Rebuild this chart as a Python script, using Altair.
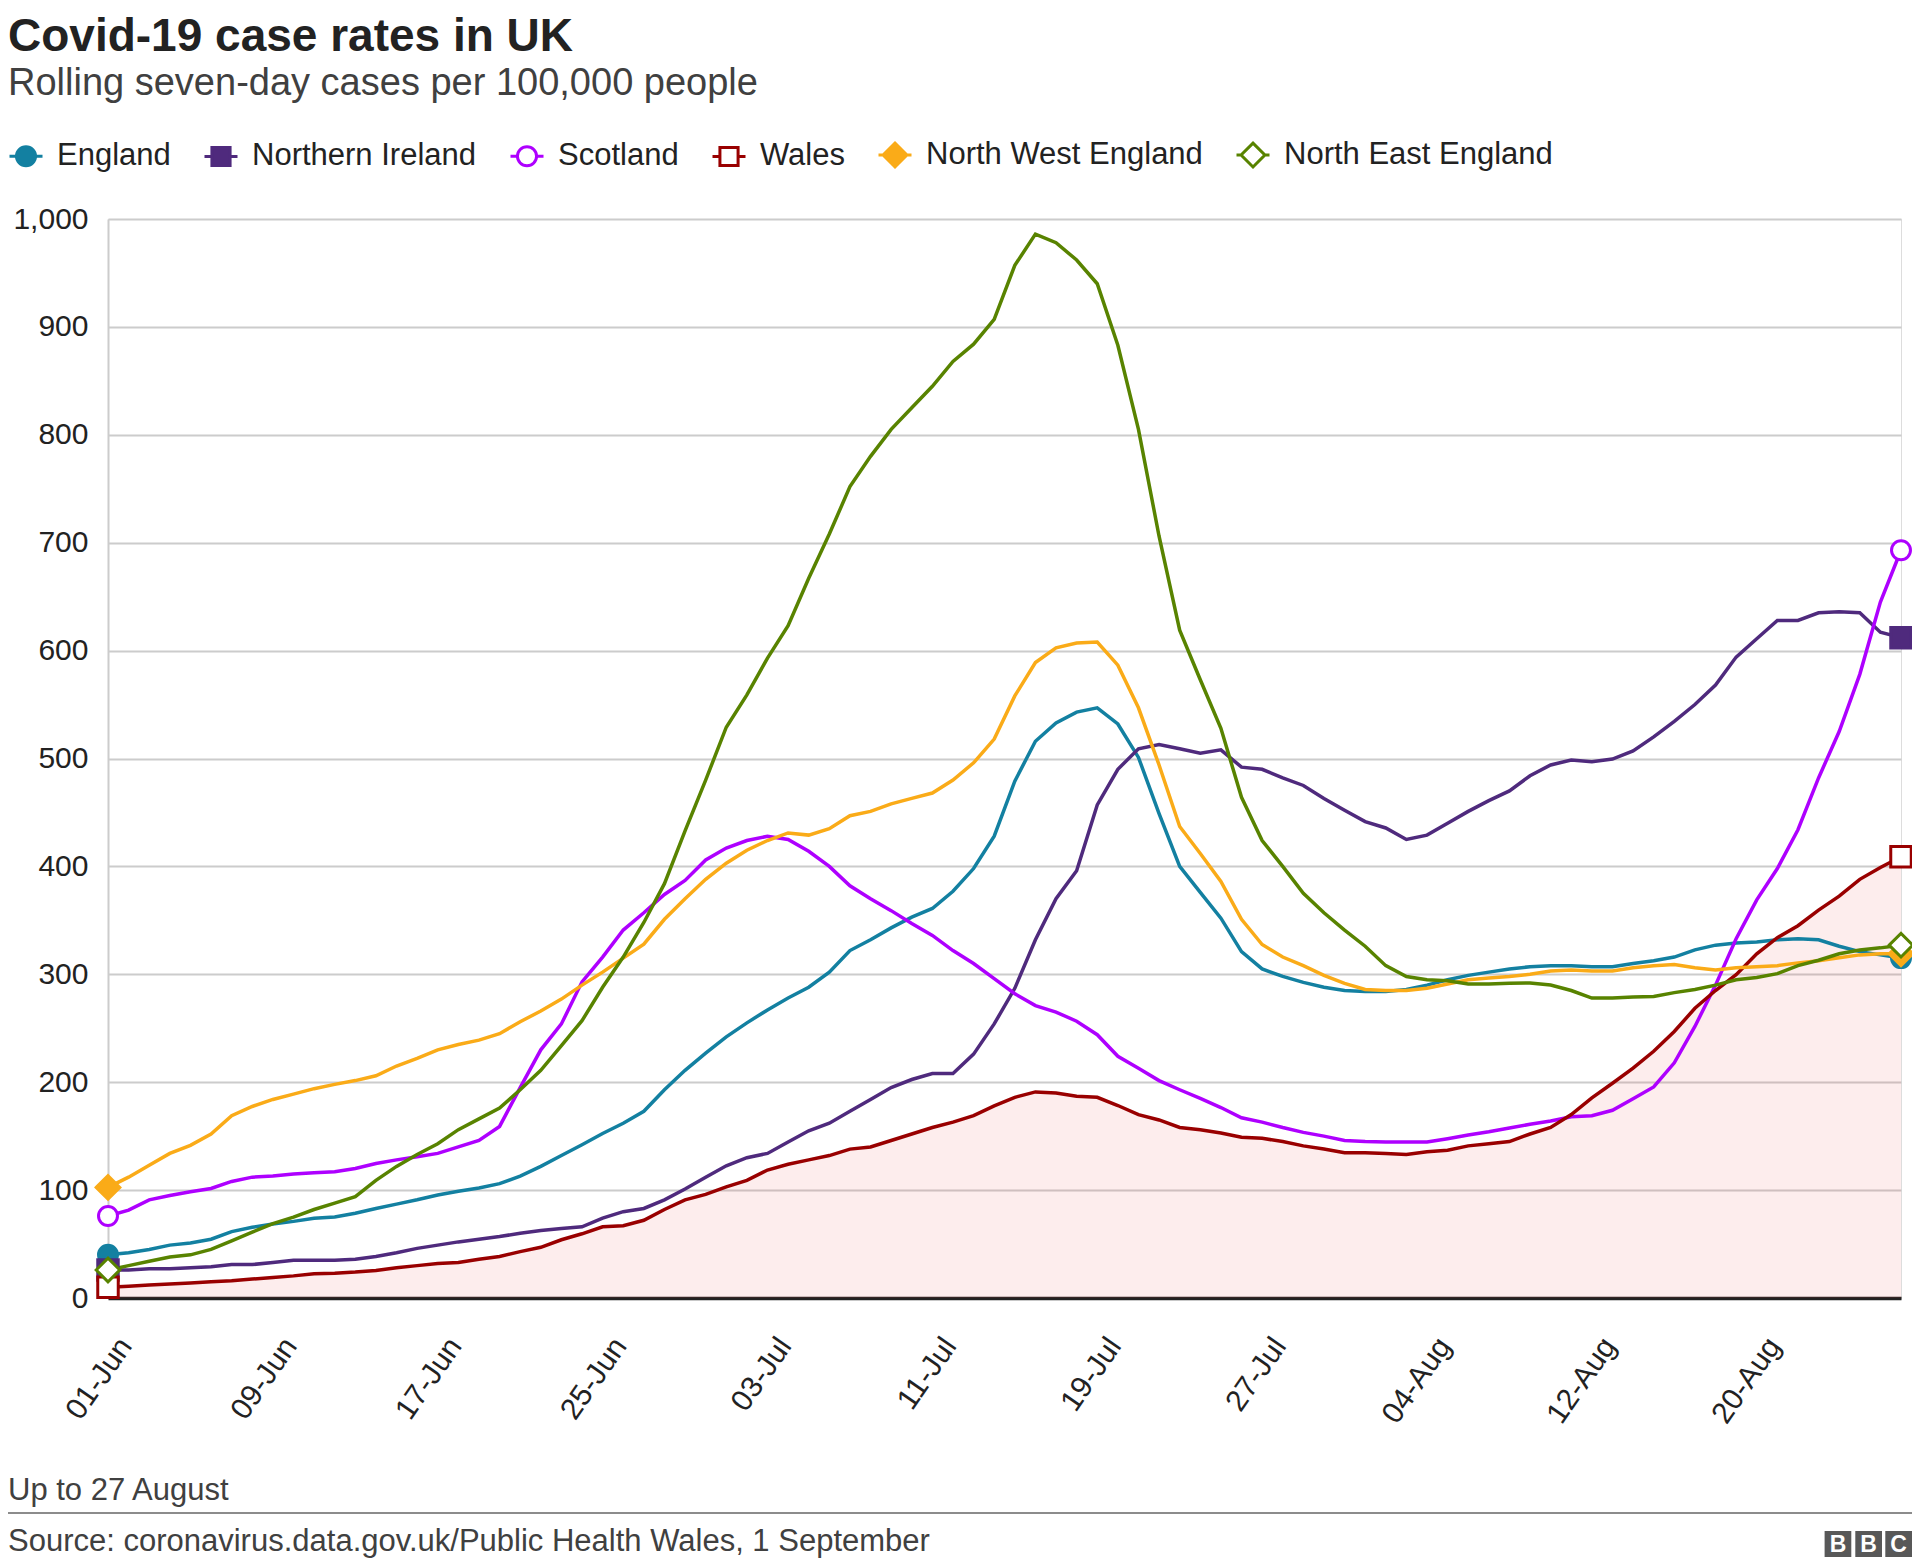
import altair as alt
import pandas as pd

FONT = "Liberation Sans"

# ---------------- data ----------------
start_date = "2021-06-01"
end_date = "2021-08-27"

series_names = ["England", "Northern Ireland", "Scotland", "Wales",
                "North West England", "North East England"]

england = [40, 42, 45, 49, 51, 54.5, 61.5, 65.5, 68.6, 71,
           74, 75, 78.5, 83, 87, 91, 95.5, 99, 102, 106,
           113, 122, 132, 142, 152.5, 162, 173, 193, 211, 227,
           242, 255, 267, 278, 288, 302, 322, 332, 343, 353,
           361, 377, 398, 428, 479, 516, 533, 543, 547, 532,
           501, 449, 400, 376, 352, 321, 305, 298, 292.5, 288,
           285, 284, 284, 286, 290, 295, 299, 302, 305, 307,
           308, 308, 307, 307, 310, 312.6, 316, 322.6, 327, 329,
           330, 332, 333, 332, 326, 321, 318, 315]

northern_ireland = [26, 26, 27, 27, 28, 29, 31, 31, 33, 35,
                    35, 35, 36, 38.5, 42, 46, 49, 52, 54.5, 57,
                    60, 62.5, 64.5, 66, 74, 80, 83, 91, 101, 112,
                    122.5, 130, 134, 144.6, 155, 162, 173, 184, 195, 202.5,
                    208, 208, 226, 254, 287, 332, 370, 396, 457, 490,
                    509, 513, 509, 505, 508, 492, 490, 482, 475, 463,
                    452, 441.5, 435.6, 425, 429, 440, 451, 461, 470, 484,
                    494, 498.6, 497, 499.5, 507, 520, 534.5, 550, 568, 594,
                    611, 628, 628, 635, 636, 635, 617, 612]

scotland = [76, 81.5, 91, 95, 98.5, 101.5, 108, 112, 113, 115,
            116, 117, 120, 124.6, 128, 131, 134, 140, 146, 159,
            195, 230, 254, 293, 316, 341, 357, 374, 387, 406,
            417, 424, 428, 425, 414, 400, 382, 370, 359, 347,
            336, 322, 310, 296, 282, 271, 265, 256.5, 244, 224,
            213, 201.5, 193, 185, 176.5, 167, 163, 158, 153.5, 150,
            146, 145, 144.5, 144.5, 144.5, 147.6, 151, 154, 157.5, 161,
            164, 168, 169, 174, 184.6, 195.6, 218, 251.7, 290, 333,
            369, 398, 434, 482, 525, 578, 645, 693]

wales = [10, 11, 12, 13, 14, 15, 16, 17.5, 19, 20.5,
         22.5, 23, 24, 25.5, 28, 30, 32, 33, 36, 38.5,
         43, 47, 54, 59.5, 66, 67, 72, 82, 91, 96,
         103, 109, 118.6, 124, 128, 132, 138, 140, 146, 152,
         158, 163, 169, 178, 186, 191, 190, 187, 186, 178.4,
         170, 165, 158, 156, 153, 149, 148, 145, 141, 138,
         134.6, 134.6, 134, 133, 135.5, 137, 141, 143, 145, 152,
         158, 170, 185.5, 199, 213, 228.7, 247, 268.5, 285, 299.6,
         319, 334, 345, 359.5, 372.5, 388, 399, 409]

north_west = [102.5, 112, 123, 134, 141.5, 152, 169, 177.5, 184, 189,
              194, 198, 201.5, 206, 215, 222, 230, 235, 239, 245,
              256, 266, 277, 290, 302, 315, 328, 351, 370, 388,
              403, 415, 424, 431, 429, 435, 447, 451, 458, 463,
              468, 480, 496, 518, 558, 589, 602.5, 607, 608, 586.5,
              547, 494, 437, 412, 386, 351, 327.6, 316, 308, 299,
              291.6, 286, 285, 285, 287, 291, 295, 296.6, 298, 300,
              303, 304, 303, 303, 306, 308, 309, 306, 304, 306,
              307, 308, 310.6, 312.6, 315.4, 318, 319, 319]

north_east = [26, 30, 34, 38, 40, 45, 53, 61, 69, 75,
              82, 88, 94, 109, 122, 133, 143, 156, 166, 176,
              193, 211, 234, 257, 288, 316, 348, 384, 433, 480,
              529, 559, 593, 623, 667, 708, 752, 780, 805, 825,
              845, 868, 884, 907, 957, 986, 978, 962, 940, 883,
              805, 706, 619, 573, 528, 464, 424, 400, 375, 357,
              341, 326, 308, 298, 295, 294, 291, 291, 291.6, 292,
              290, 285, 278, 278, 279, 279.5, 283, 286, 290, 295,
              297, 300.6, 308, 313, 319, 322.6, 324.5, 327]

all_values = [england, northern_ireland, scotland, wales, north_west, north_east]

y_ticks = list(range(0, 1001, 100))
x_tick_dates = ["2021-06-01", "2021-06-09", "2021-06-17", "2021-06-25",
                "2021-07-03", "2021-07-11", "2021-07-19", "2021-07-27",
                "2021-08-04", "2021-08-12", "2021-08-20"]

title_text = "Covid-19 case rates in UK"
subtitle_text = "Rolling seven-day cases per 100,000 people"
note_text = "Up to 27 August"
source_text = "Source: coronavirus.data.gov.uk/Public Health Wales, 1 September"

# ---------------- styles ----------------
colors = ["#1380A1", "#4F2A7D", "#AE00FF", "#990000", "#FAAB18", "#588300"]
fills = ["#1380A1", "#4F2A7D", "#FFFFFF", "#FFFFFF", "#FAAB18", "#FFFFFF"]
marker_shapes = ["circle", "square", "circle", "square", "diamond", "diamond"]
marker_sizes = [360, 420, 360, 420, 560, 560]
legend_paths = [
    "M-1,0L-0.58,0M0.58,0L1,0M0.58,0A0.58,0.58,0,1,1,-0.58,0A0.58,0.58,0,1,1,0.58,0Z",
    "M-1,0L-0.55,0M0.55,0L1,0M-0.55,-0.55L0.55,-0.55L0.55,0.55L-0.55,0.55Z",
    "M-1,0L-0.58,0M0.58,0L1,0M0.58,0A0.58,0.58,0,1,1,-0.58,0A0.58,0.58,0,1,1,0.58,0Z",
    "M-1,0L-0.55,0M0.55,0L1,0M-0.55,-0.55L0.55,-0.55L0.55,0.55L-0.55,0.55Z",
    "M-1,0L-0.72,0M0.72,0L1,0M0,-0.72L0.72,0L0,0.72L-0.72,0Z",
    "M-1,0L-0.72,0M0.72,0L1,0M0,-0.72L0.72,0L0,0.72L-0.72,0Z",
]

# ---------------- table ----------------
dates = [d.strftime("%Y-%m-%d") for d in pd.date_range(start_date, end_date, freq="D")]
rows = []
for name, vals in zip(series_names, all_values):
    for d, v in zip(dates, vals):
        rows.append({"date": d, "series": name, "value": v})
df = pd.DataFrame(rows)
ends = df[df["date"].isin([dates[0], dates[-1]])]


def ms(s):
    return int(pd.Timestamp(s, tz="UTC").timestamp() * 1000)


x_axis = alt.Axis(values=[ms(d) for d in x_tick_dates], format="%d-%b",
                  labelAngle=-55, labelAlign="right", labelBaseline="top",
                  labelPadding=34, labelOffset=5, labelFontSize=30,
                  labelFont=FONT, labelColor="#222222", ticks=False,
                  domainColor="#222222", domainWidth=3.5, grid=False,
                  title=None, labelFlush=False, labelOverlap=False)
y_axis = alt.Axis(values=y_ticks, format=",d", labelFontSize=30, labelFont=FONT,
                  labelColor="#222222", labelPadding=20, ticks=False,
                  domainColor="#cccccc", domainWidth=2, gridColor="#cccccc",
                  gridWidth=1.8, title=None)

X = alt.X("date:T", scale=alt.Scale(type="utc", domain=[ms(start_date), ms(end_date)]),
          axis=x_axis)
Y = alt.Y("value:Q", scale=alt.Scale(domain=[0, 1000], nice=False), axis=y_axis)

base = alt.Chart(df)

layers = []
# shaded area under Wales
layers.append(base.transform_filter(alt.datum.series == "Wales")
              .mark_area(color="#E84A4A", opacity=0.1).encode(x=X, y=Y))
# lines
for name, col in zip(series_names, colors):
    layers.append(base.transform_filter(alt.datum.series == name)
                  .mark_line(color=col, strokeWidth=3.5).encode(x=X, y=Y))
# end markers
for name, col, fc, shp, sz in zip(series_names, colors, fills, marker_shapes, marker_sizes):
    layers.append(alt.Chart(ends).transform_filter(alt.datum.series == name)
                  .mark_point(shape=shp, size=sz, fill=fc, stroke=col, strokeWidth=3,
                              filled=True, opacity=1)
                  .encode(x=X, y=Y))
# legend-only layer (no rows, explicit domains)
leg = alt.Legend(title=None)
layers.append(base.transform_filter("false")
              .mark_point(filled=True, opacity=1, strokeWidth=3)
              .encode(x=X, y=Y,
                      shape=alt.Shape("series:N", scale=alt.Scale(domain=series_names, range=legend_paths), legend=leg),
                      fill=alt.Fill("series:N", scale=alt.Scale(domain=series_names, range=fills), legend=leg),
                      stroke=alt.Stroke("series:N", scale=alt.Scale(domain=series_names, range=colors), legend=leg)))

one = alt.Chart(pd.DataFrame({"k": [0]}))


def txt(text, x, y, size, color="#222222", weight="normal", align="left", baseline="alphabetic"):
    return one.mark_text(text=text, font=FONT, fontSize=size, fontWeight=weight, color=color,
                         align=align, baseline=baseline).encode(x=alt.value(x), y=alt.value(y))


layers.append(txt(title_text, -100, -168, 46, weight="bold"))
layers.append(txt(subtitle_text, -100, -124, 38, color="#404040"))
layers.append(txt(note_text, -100, 1281, 31, color="#404040"))
layers.append(one.mark_rule(color="#8c8c8c", strokeWidth=2)
              .encode(x=alt.value(-100), x2=alt.value(1804), y=alt.value(1294)))
layers.append(txt(source_text, -100, 1332, 31, color="#404040"))
# BBC logo blocks
for x0, letter in zip([1716.6, 1747.3, 1777.3], ["B", "B", "C"]):
    layers.append(one.mark_rect(color="#585858")
                  .encode(x=alt.value(x0), x2=alt.value(x0 + 26.7),
                          y=alt.value(1312), y2=alt.value(1338)))
    layers.append(txt(letter, x0 + 13.35, 1325.5, 23, color="#FFFFFF", weight="bold",
                      align="center", baseline="middle"))

chart = (alt.layer(*layers)
         .properties(width=1793, height=1079,
                     padding={"left": 100, "top": 211, "right": 11, "bottom": 261},
                     autosize=alt.AutoSizeParams(type="none"))
         .configure_view(stroke=None)
         .configure(background="white")
         .configure_legend(orient="none", legendX=-100, legendY=-82, direction="horizontal",
                           symbolSize=1089, symbolStrokeWidth=3, labelFontSize=31,
                           labelFont=FONT, labelColor="#222222", labelOffset=13,
                           columnPadding=27, padding=0, labelLimit=0))

chart.save("out.html", embed_options={"renderer": "svg", "actions": False})
